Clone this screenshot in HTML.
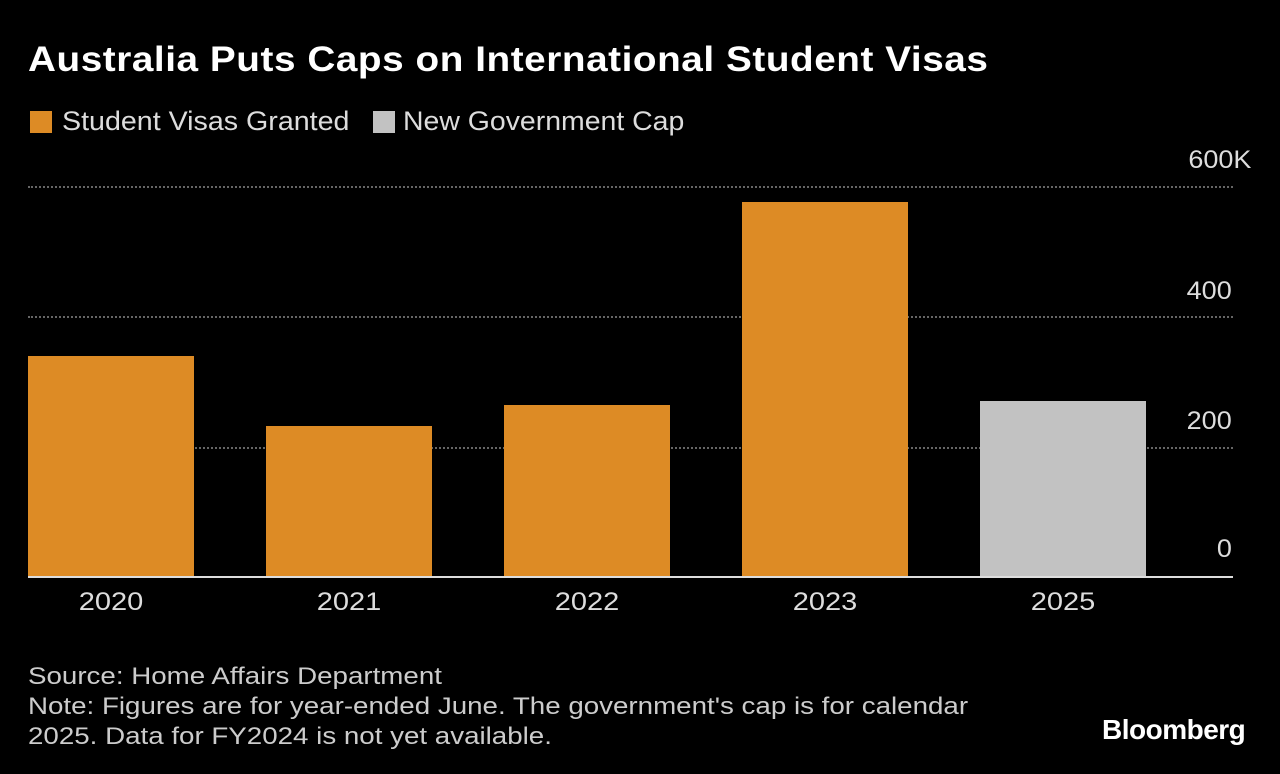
<!DOCTYPE html>
<html><head><meta charset="utf-8"><style>
body{margin:0;background:#000;width:1280px;height:774px;overflow:hidden;font-family:"Liberation Sans",sans-serif;color:#fff;position:relative}
.a{position:absolute;white-space:nowrap;transform-origin:0 0}
.bar{position:absolute;width:166px}
.o{background:#dd8b25}
.g{background:#c2c2c2}
.grid{position:absolute;left:28px;width:1205px;border-top:2px dotted #666;height:0}
.yl{position:absolute;right:48px;font-size:25px;color:#ddd;transform:scaleX(1.08);transform-origin:100% 0}
.xl{position:absolute;width:166px;text-align:center;font-size:25px;color:#ddd;top:588px;transform:scaleX(1.16)}
</style></head><body>
<div class="a" style="left:28px;top:40px;font-size:35px;font-weight:bold;letter-spacing:0.5px;transform:scaleX(1.106)">Australia Puts Caps on International Student Visas</div>
<div class="a" style="left:30px;top:111px;width:22px;height:22px;background:#dd8b25"></div>
<div class="a" style="left:62px;top:106px;font-size:27px;color:#ddd;transform:scaleX(1.06)">Student Visas Granted</div>
<div class="a" style="left:373px;top:111px;width:22px;height:22px;background:#c2c2c2"></div>
<div class="a" style="left:403px;top:106px;font-size:27px;color:#ddd;transform:scaleX(1.053)">New Government Cap</div>
<div class="grid" style="top:186px"></div>
<div class="grid" style="top:316px"></div>
<div class="grid" style="top:447px"></div>
<div class="yl" style="top:146px;right:29px">600K</div>
<div class="yl" style="top:277px">400</div>
<div class="yl" style="top:407px">200</div>
<div class="yl" style="top:535px">0</div>
<div class="bar o" style="left:28px;top:356px;height:221px"></div>
<div class="bar o" style="left:266px;top:426px;height:151px"></div>
<div class="bar o" style="left:504px;top:405px;height:172px"></div>
<div class="bar o" style="left:742px;top:202px;height:375px"></div>
<div class="bar g" style="left:980px;top:401px;height:176px"></div>
<div class="a" style="left:28px;top:576px;width:1205px;height:2px;background:#ddd"></div>
<div class="xl" style="left:28px">2020</div>
<div class="xl" style="left:266px">2021</div>
<div class="xl" style="left:504px">2022</div>
<div class="xl" style="left:742px">2023</div>
<div class="xl" style="left:980px">2025</div>
<div class="a" style="left:28px;top:662px;font-size:24px;color:#ccc;line-height:30px;transform:scaleX(1.155)">Source: Home Affairs Department<br>Note: Figures are for year-ended June. The government's cap is for calendar<br>2025. Data for FY2024 is not yet available.</div>
<div class="a" style="left:1102px;top:714px;font-size:28px;font-weight:bold;letter-spacing:-0.5px">Bloomberg</div>
</body></html>
